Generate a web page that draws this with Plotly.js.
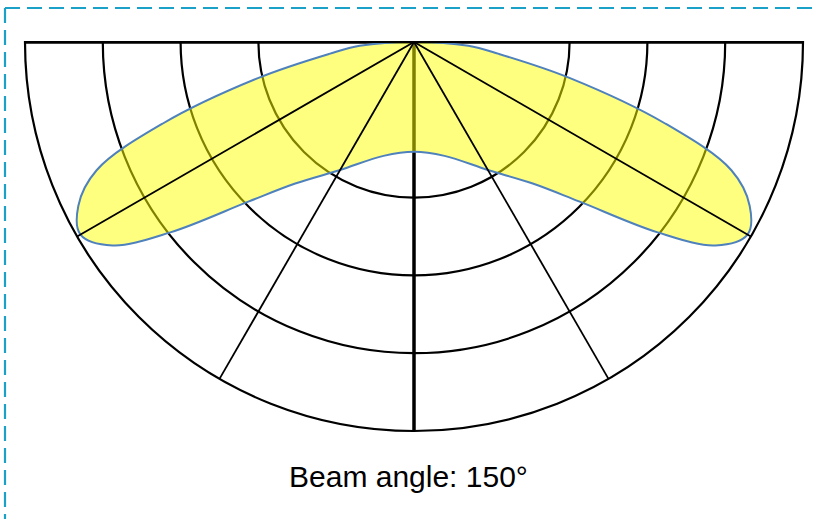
<!DOCTYPE html>
<html>
<head>
<meta charset="utf-8">
<script src="https://cdn.plot.ly/plotly-3.0.1.min.js"></script>
<style>
  html, body { margin: 0; padding: 0; background: #ffffff; }
  #wrap { position: relative; width: 815px; height: 519px; }
  #chart { position: absolute; left: 0; top: 0; width: 815px; height: 519px; }
  #frame { position: absolute; left: 0; top: 0; pointer-events: none; }
</style>
</head>
<body>
<div id="wrap">
  <div id="chart"></div>
  <svg id="frame" width="815" height="519">
    <line x1="5" y1="8" x2="815" y2="8" stroke="#1ba1c8" stroke-width="2.2" stroke-dasharray="15 7"></line>
    <line x1="5" y1="8" x2="5" y2="519" stroke="#1ba1c8" stroke-width="2.2" stroke-dasharray="15 7"></line>
  </svg>
</div>
<script>
// Light distribution (angle from nadir in degrees, relative intensity 0..1)
const beamTheta = [-90, -86, -82, -77, -72, -68, -64, -60, -56, -52, -46, -40, -30, -15,
                   0,
                   15, 30, 40, 46, 52, 56, 60, 64, 68, 72, 77, 82, 86, 90];
const beamR     = [0, 0.14, 0.22, 0.41, 0.68, 0.88, 0.96, 0.99, 0.935, 0.795, 0.59, 0.475, 0.38, 0.303,
                   0.282,
                   0.303, 0.38, 0.475, 0.59, 0.795, 0.935, 0.99, 0.96, 0.88, 0.68, 0.41, 0.22, 0.14, 0];

// Grid structure
const ringValues = [0.4, 0.6, 0.8, 1.0];
const mainAxisAngles = [-90, 0, 90];     // thick lines (under the fill)
const spokeAngles = [-60, -30, 30, 60];  // thin spokes (over the fill)
const labelText = 'Beam angle: 150°';

function radialLines(angles) {
  const r = [], t = [];
  angles.forEach(a => { r.push(0, 1, null); t.push(a, a, null); });
  return { r, t };
}

const mainLines = radialLines(mainAxisAngles);
const spokes = radialLines(spokeAngles);

const traces = [
  {
    type: 'scatterpolar', mode: 'lines',
    r: mainLines.r, theta: mainLines.t,
    line: { color: '#000000', width: 3.5 },
    connectgaps: false, hoverinfo: 'skip', showlegend: false
  },
  {
    type: 'scatterpolar', mode: 'lines',
    r: beamR, theta: beamTheta,
    fill: 'toself', fillcolor: 'rgba(255,255,0,0.5)',
    line: { color: '#4f81bd', width: 2, shape: 'spline', smoothing: 1 },
    hoverinfo: 'skip', showlegend: false
  },
  {
    type: 'scatterpolar', mode: 'lines',
    r: spokes.r, theta: spokes.t,
    line: { color: '#000000', width: 1.8 },
    connectgaps: false, hoverinfo: 'skip', showlegend: false
  }
];

const layout = {
  width: 815, height: 519,
  margin: { l: 25, r: 12, t: 42, b: 88, pad: 0 },
  paper_bgcolor: '#ffffff',
  showlegend: false,
  polar: {
    domain: { x: [0, 1], y: [0, 1] },
    sector: [180, 360],
    bgcolor: 'rgba(0,0,0,0)',
    radialaxis: {
      range: [0, 1],
      tickvals: ringValues,
      showticklabels: false,
      ticks: '',
      showline: false,
      showgrid: true,
      gridcolor: '#000000',
      gridwidth: 2.2
    },
    angularaxis: {
      rotation: 270,
      direction: 'counterclockwise',
      showgrid: false,
      showticklabels: false,
      ticks: '',
      showline: true,
      linecolor: '#000000',
      linewidth: 2.2
    }
  },
  annotations: [{
    xref: 'paper', yref: 'paper',
    x: 0.4923, y: -0.118,
    xanchor: 'center', yanchor: 'middle',
    text: labelText, showarrow: false,
    font: { family: 'Liberation Sans, Arial, sans-serif', size: 30, color: '#000000' }
  }]
};

Plotly.newPlot('chart', traces, layout, { staticPlot: true, displayModeBar: false });
</script>
</body>
</html>
